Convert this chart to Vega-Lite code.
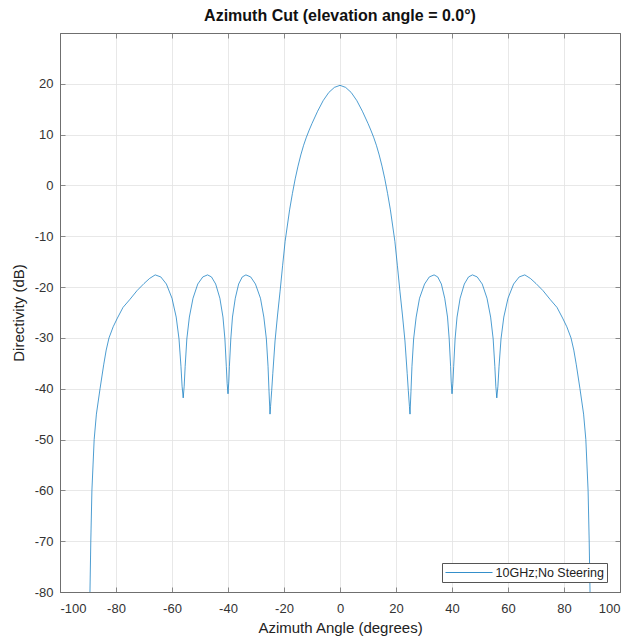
{
 "$schema": "https://vega.github.io/schema/vega-lite/v6.json",
 "width": 560, "height": 559,
 "autosize": "none",
 "padding": {"left": 60, "top": 33, "right": 14, "bottom": 47},
 "background": "white",
 "title": {"text": "Azimuth Cut (elevation angle = 0.0°)", "fontSize": 16, "fontWeight": "bold", "font": "Liberation Sans", "color": "#111111", "anchor": "middle", "offset": 5, "baseline": "alphabetic", "dy": 9},
 "data": {"values": [
  {"az": -89.3, "dir": -80}, {"az": -89.0, "dir": -70}, {"az": -88.6, "dir": -60}, {"az": -88.2, "dir": -55}, {"az": -87.8, "dir": -50},
  {"az": -87.0, "dir": -45}, {"az": -85.7, "dir": -40}, {"az": -84.4, "dir": -35.3}, {"az": -83.5, "dir": -32.4}, {"az": -82.5, "dir": -30.0},
  {"az": -81, "dir": -27.8}, {"az": -79.5, "dir": -26.1}, {"az": -77.5, "dir": -24.0}, {"az": -75, "dir": -22.4}, {"az": -72.5, "dir": -20.7},
  {"az": -70, "dir": -19.3}, {"az": -68, "dir": -18.3},
  {"az": -66, "dir": -17.6}, {"az": -64, "dir": -18.0}, {"az": -62, "dir": -19.4}, {"az": -60, "dir": -22.2}, {"az": -58.5, "dir": -25.9},
  {"az": -57.5, "dir": -30.2}, {"az": -56.8, "dir": -35.6}, {"az": -56.4, "dir": -39.5}, {"az": -56.0, "dir": -41.8}, {"az": -55.65, "dir": -39.5},
  {"az": -55.3, "dir": -35.6}, {"az": -54.7, "dir": -30.2}, {"az": -53.8, "dir": -25.9}, {"az": -52.5, "dir": -22.2}, {"az": -50.8, "dir": -19.4},
  {"az": -49.0, "dir": -18.0}, {"az": -47.3, "dir": -17.6}, {"az": -45.9, "dir": -18.0}, {"az": -44.4, "dir": -19.4}, {"az": -42.9, "dir": -22.2},
  {"az": -41.8, "dir": -25.9}, {"az": -41.1, "dir": -30.2}, {"az": -40.6, "dir": -35.6}, {"az": -40.3, "dir": -39.0}, {"az": -40.0, "dir": -41.0},
  {"az": -39.7, "dir": -38.5}, {"az": -39.5, "dir": -35.6}, {"az": -39.0, "dir": -30.2}, {"az": -38.4, "dir": -25.9}, {"az": -37.4, "dir": -22.2},
  {"az": -36.2, "dir": -19.4}, {"az": -34.9, "dir": -18.0}, {"az": -33.6, "dir": -17.6}, {"az": -31.9, "dir": -18.0}, {"az": -30.2, "dir": -19.4},
  {"az": -28.4, "dir": -22.2}, {"az": -27.2, "dir": -25.9}, {"az": -26.3, "dir": -30.2}, {"az": -25.7, "dir": -35.6}, {"az": -25.35, "dir": -40.5},
  {"az": -25.0, "dir": -45.0}, {"az": -24.8, "dir": -43.5}, {"az": -24.4, "dir": -40.4}, {"az": -24.0, "dir": -37.0}, {"az": -23.2, "dir": -30.6},
  {"az": -22.3, "dir": -25.5}, {"az": -21.4, "dir": -20.8}, {"az": -20.5, "dir": -15.8}, {"az": -19.6, "dir": -11.0}, {"az": -18, "dir": -4.8},
  {"az": -17, "dir": -1.6}, {"az": -16, "dir": 1.3}, {"az": -15, "dir": 3.8}, {"az": -14, "dir": 6.0}, {"az": -13, "dir": 7.9},
  {"az": -12, "dir": 9.5}, {"az": -11, "dir": 10.9}, {"az": -10, "dir": 12.2}, {"az": -8, "dir": 14.6}, {"az": -6, "dir": 16.7},
  {"az": -4, "dir": 18.3}, {"az": -2, "dir": 19.3}, {"az": 0, "dir": 19.7},
  {"az": 2, "dir": 19.3}, {"az": 4, "dir": 18.3}, {"az": 6, "dir": 16.7}, {"az": 8, "dir": 14.6}, {"az": 10, "dir": 12.2},
  {"az": 11, "dir": 10.9}, {"az": 12, "dir": 9.5}, {"az": 13, "dir": 7.9}, {"az": 14, "dir": 6.0}, {"az": 15, "dir": 3.8},
  {"az": 16, "dir": 1.3}, {"az": 17, "dir": -1.6}, {"az": 18, "dir": -4.8}, {"az": 19.6, "dir": -11.0}, {"az": 20.5, "dir": -15.8},
  {"az": 21.4, "dir": -20.8}, {"az": 22.3, "dir": -25.5}, {"az": 23.2, "dir": -30.6}, {"az": 24.0, "dir": -37.0}, {"az": 24.4, "dir": -40.4},
  {"az": 24.8, "dir": -43.5}, {"az": 25.0, "dir": -45.0}, {"az": 25.35, "dir": -40.5}, {"az": 25.7, "dir": -35.6}, {"az": 26.3, "dir": -30.2},
  {"az": 27.2, "dir": -25.9}, {"az": 28.4, "dir": -22.2}, {"az": 30.2, "dir": -19.4}, {"az": 31.9, "dir": -18.0}, {"az": 33.6, "dir": -17.6},
  {"az": 34.9, "dir": -18.0}, {"az": 36.2, "dir": -19.4}, {"az": 37.4, "dir": -22.2}, {"az": 38.4, "dir": -25.9}, {"az": 39.0, "dir": -30.2},
  {"az": 39.5, "dir": -35.6}, {"az": 39.7, "dir": -38.5}, {"az": 40.0, "dir": -41.0}, {"az": 40.3, "dir": -39.0}, {"az": 40.6, "dir": -35.6},
  {"az": 41.1, "dir": -30.2}, {"az": 41.8, "dir": -25.9}, {"az": 42.9, "dir": -22.2}, {"az": 44.4, "dir": -19.4}, {"az": 45.9, "dir": -18.0},
  {"az": 47.3, "dir": -17.6}, {"az": 49.0, "dir": -18.0}, {"az": 50.8, "dir": -19.4}, {"az": 52.5, "dir": -22.2}, {"az": 53.8, "dir": -25.9},
  {"az": 54.7, "dir": -30.2}, {"az": 55.3, "dir": -35.6}, {"az": 55.65, "dir": -39.5}, {"az": 56.0, "dir": -41.8}, {"az": 56.4, "dir": -39.5},
  {"az": 56.8, "dir": -35.6}, {"az": 57.5, "dir": -30.2}, {"az": 58.5, "dir": -25.9}, {"az": 60, "dir": -22.2}, {"az": 62, "dir": -19.4},
  {"az": 64, "dir": -18.0}, {"az": 66, "dir": -17.6}, {"az": 68, "dir": -18.3}, {"az": 70, "dir": -19.3}, {"az": 72.5, "dir": -20.7},
  {"az": 75, "dir": -22.4}, {"az": 77.5, "dir": -24.0}, {"az": 79.5, "dir": -26.1}, {"az": 81, "dir": -27.8}, {"az": 82.5, "dir": -30.0},
  {"az": 83.5, "dir": -32.4}, {"az": 84.4, "dir": -35.3},
  {"az": 85.7, "dir": -40}, {"az": 87.0, "dir": -45}, {"az": 87.8, "dir": -50}, {"az": 88.2, "dir": -55}, {"az": 88.6, "dir": -60},
  {"az": 89.0, "dir": -70}, {"az": 89.3, "dir": -80}
 ]},
 "layer": [
  {
   "mark": {"type": "line", "strokeWidth": 0.7, "clip": true},
   "encoding": {
    "x": {"field": "az", "type": "quantitative", "scale": {"domain": [-100, 100], "nice": false, "zero": false},
          "axis": {"values": [-100, -80, -60, -40, -20, 0, 20, 40, 60, 80, 100], "title": "Azimuth Angle (degrees)", "labelPadding": 15, "titlePadding": 5,
                   "labelExpr": "replace(datum.label, '−', '-')"}},
    "y": {"field": "dir", "type": "quantitative", "scale": {"domain": [-80, 30], "nice": false, "zero": false},
          "axis": {"values": [-80, -70, -60, -50, -40, -30, -20, -10, 0, 10, 20], "title": "Directivity (dB)", "labelPadding": 12, "titlePadding": 8,
                   "labelExpr": "replace(datum.label, '−', '-')"}},
    "color": {"datum": "10GHz;No Steering", "type": "nominal", "scale": {"range": ["#0072BD"]},
              "legend": {"title": null, "orient": "none", "legendX": 382, "legendY": 530,
                         "symbolType": "M-3.92,0H3.92", "symbolSize": 144, "symbolOffset": 17.5, "symbolStrokeWidth": 0.8, "symbolStrokeColor": "#0072BD",
                         "labelOffset": 20, "labelFontSize": 12.5, "labelFont": "Liberation Sans", "labelColor": "#222222",
                         "strokeColor": "#555555", "fillColor": "white", "padding": 3}}
   }
  },
  {
   "mark": {"type": "line", "strokeOpacity": 0},
   "encoding": {
    "x": {"field": "az", "type": "quantitative", "scale": {"domain": [-100, 100], "nice": false, "zero": false},
          "axis": {"orient": "top", "values": [-100, -80, -60, -40, -20, 0, 20, 40, 60, 80, 100], "labels": false, "title": null, "grid": false}},
    "y": {"field": "dir", "type": "quantitative", "scale": {"domain": [-80, 30], "nice": false, "zero": false},
          "axis": {"orient": "right", "values": [-80, -70, -60, -50, -40, -30, -20, -10, 0, 10, 20], "labels": false, "title": null, "grid": false}}
   }
  }
 ],
 "resolve": {"axis": {"x": "independent", "y": "independent"}},
 "config": {
  "view": {"stroke": "#6f6f6f", "strokeWidth": 1},
  "axis": {
   "grid": true, "gridColor": "#e2e2e2", "gridWidth": 0.8,
   "domainColor": "#6f6f6f", "domainWidth": 1,
   "tickColor": "#6f6f6f", "tickSize": -5, "tickWidth": 0.8,
   "labelFont": "Liberation Sans", "labelFontSize": 13, "labelColor": "#333333",
   "titleFont": "Liberation Sans", "titleFontSize": 15, "titleFontWeight": "normal", "titleColor": "#222222"
  }
 }
}
